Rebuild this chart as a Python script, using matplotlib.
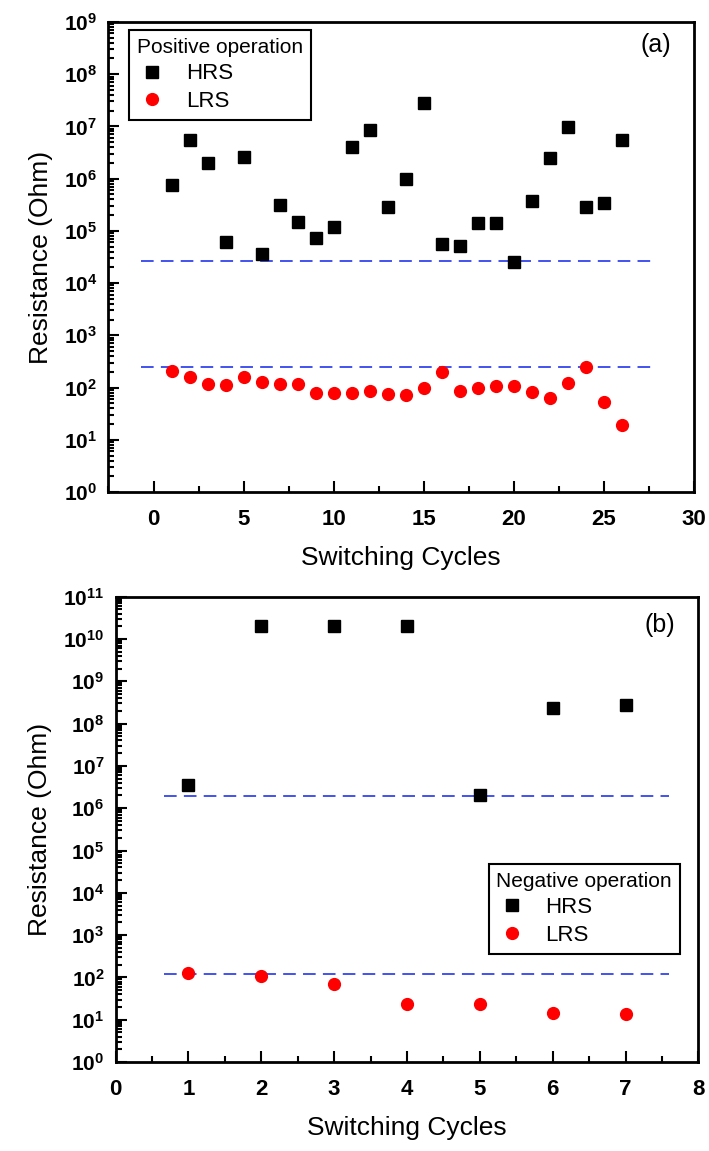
import numpy as np
import matplotlib
matplotlib.use('Agg')
import matplotlib.pyplot as plt
from matplotlib.ticker import LogLocator, MultipleLocator, FuncFormatter, NullFormatter

# Panel (a): positive operation
cycles_a = np.arange(1, 27)
hrs_a = [7.6e5, 5.6e6, 2.0e6, 6.0e4, 2.6e6, 3.6e4, 3.1e5, 1.5e5, 7.2e4, 1.16e5,
         4.0e6, 8.5e6, 2.8e5, 9.7e5, 2.8e7, 5.7e4, 5.2e4, 1.4e5, 1.4e5, 2.5e4,
         3.7e5, 2.5e6, 9.8e6, 2.8e5, 3.4e5, 5.6e6]
lrs_a = [209, 160, 116, 111, 160, 130, 119, 119, 77, 80,
         80, 85, 75, 72, 100, 195, 86, 97, 109, 109,
         81, 64, 125, 243, 54, 19]
hrs_ref_a = 2.6e4
lrs_ref_a = 250
ref_span_a = [-0.7, 27.6]

# Panel (b): negative operation
cycles_b = np.arange(1, 8)
hrs_b = [3.6e6, 2.0e10, 2.07e10, 2.0e10, 2.0e6, 2.3e8, 2.8e8]
lrs_b = [124, 109, 71, 23.5, 23.8, 14.4, 13.6]
hrs_ref_b = 1.9e6
lrs_ref_b = 120
ref_span_b = [0.67, 7.6]

plt.rcParams['font.family'] = ['Liberation Sans', 'DejaVu Sans']
plt.rcParams['mathtext.fontset'] = 'custom'
plt.rcParams['mathtext.rm'] = 'Liberation Sans'
plt.rcParams['mathtext.bf'] = 'Liberation Sans:bold'

fig = plt.figure(figsize=(7.09, 11.51), dpi=100)
ax1 = fig.add_axes([0.153, 0.5725, 0.826, 0.4085])
ax2 = fig.add_axes([0.163, 0.0773, 0.822, 0.4043])

def style(ax, xmaj, xmin, ytop):
    ax.set_yscale('log')
    ax.set_ylim(1, ytop)
    ax.yaxis.set_major_locator(LogLocator(base=10, numticks=20))
    ax.yaxis.set_minor_locator(LogLocator(base=10, subs=np.arange(2, 10), numticks=20))
    ax.yaxis.set_minor_formatter(NullFormatter())
    ax.yaxis.set_major_formatter(FuncFormatter(lambda v, p: r'$\mathbf{10^{%d}}$' % round(np.log10(v))))
    ax.xaxis.set_major_locator(MultipleLocator(xmaj))
    ax.xaxis.set_minor_locator(MultipleLocator(xmin))
    ax.tick_params(which='both', direction='in', top=False, right=False, width=1.5)
    ax.tick_params(axis='y', which='major', length=8, labelsize=15, pad=8)
    ax.tick_params(axis='x', which='major', length=8, labelsize=16, pad=12)
    ax.tick_params(which='minor', length=4)
    for lab in ax.get_xticklabels():
        lab.set_fontweight('bold')
    for s in ax.spines.values():
        s.set_linewidth(2)
    ax.set_xlabel('Switching Cycles', fontsize=19, labelpad=12)
    ax.set_ylabel('Resistance (Ohm)', fontsize=19, labelpad=8)

def add_legend(ax, title, loc, anchor):
    leg = ax.legend(title=title, loc=loc, bbox_to_anchor=anchor, borderaxespad=0,
                    fontsize=16, title_fontsize=15, alignment='left', fancybox=False,
                    edgecolor='black', framealpha=1, handlelength=1.4,
                    handletextpad=0.8, labelspacing=0.3, borderpad=0.35)
    leg.get_frame().set_linewidth(1.5)

# (a)
ax1.plot(ref_span_a, [hrs_ref_a] * 2, color='#3344ee', lw=1.3, dashes=(7, 4))
ax1.plot(ref_span_a, [lrs_ref_a] * 2, color='#3344ee', lw=1.3, dashes=(7, 4))
ax1.plot(cycles_a, hrs_a, 's', color='black', ms=9, label='HRS', linestyle='none')
ax1.plot(cycles_a, lrs_a, 'o', color='red', ms=8.5, label='LRS', linestyle='none')
ax1.set_xlim(-2.5, 30)
style(ax1, 5, 2.5, 1e9)
ax1.text(0.96, 0.95, '(a)', transform=ax1.transAxes, ha='right', va='center', fontsize=18)
add_legend(ax1, 'Positive operation', 'upper left', (0.035, 0.983))

# (b)
ax2.plot(ref_span_b, [hrs_ref_b] * 2, color='#3344ee', lw=1.3, dashes=(7, 4))
ax2.plot(ref_span_b, [lrs_ref_b] * 2, color='#3344ee', lw=1.3, dashes=(7, 4))
ax2.plot(cycles_b, hrs_b, 's', color='black', ms=9, label='HRS', linestyle='none')
ax2.plot(cycles_b, lrs_b, 'o', color='red', ms=8.5, label='LRS', linestyle='none')
ax2.set_xlim(0, 8)
style(ax2, 1, 0.5, 1e11)
ax2.text(0.96, 0.94, '(b)', transform=ax2.transAxes, ha='right', va='center', fontsize=18)
add_legend(ax2, 'Negative operation', 'upper right', (0.968, 0.426))

fig.savefig('out.png', dpi=100)
